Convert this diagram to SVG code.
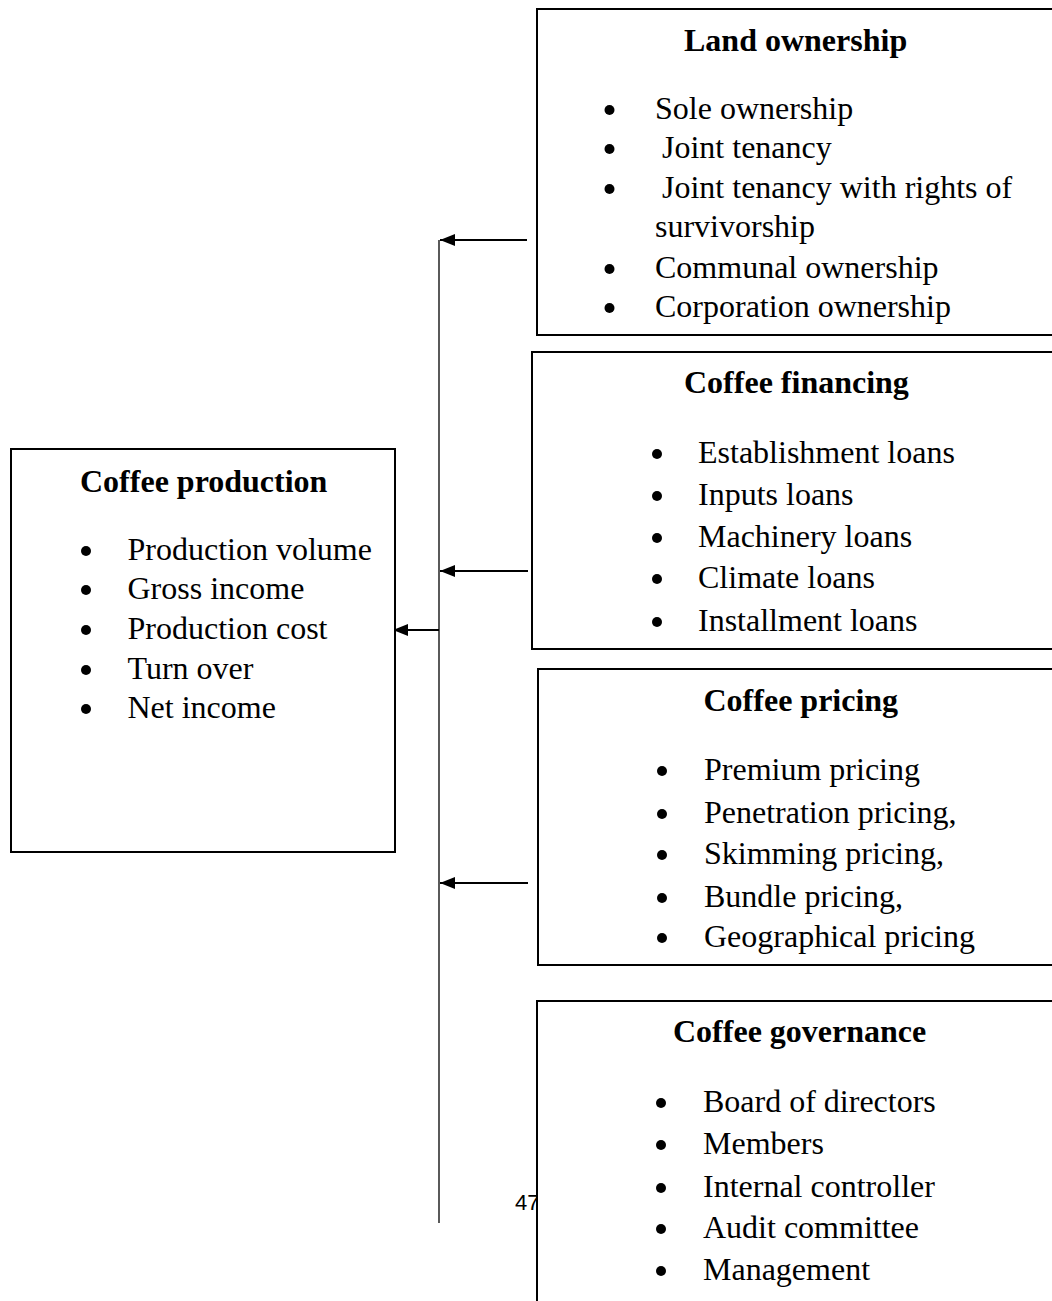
<svg xmlns="http://www.w3.org/2000/svg" width="1052" height="1301" viewBox="0 0 1052 1301">
<style>
.box{fill:#fff;stroke:#000;stroke-width:2}
.t{font-family:"Liberation Serif","Times New Roman",serif;font-size:32px;fill:#000}
.h{font-family:"Liberation Serif","Times New Roman",serif;font-size:32px;font-weight:bold;fill:#000}
.b{fill:#000}
.c{stroke:#000;stroke-width:2.2;fill:none}
.v{stroke:#000;stroke-width:1.3;fill:none}
.pg{font-family:"Liberation Sans",Arial,sans-serif;font-size:22px;fill:#000}
</style>
<defs>
<marker id="ah" viewBox="0 0 15 12" refX="15" refY="6" markerWidth="15" markerHeight="12" markerUnits="userSpaceOnUse" orient="auto">
<path d="M0,0 L15,6 L0,12 z" fill="#000"/>
</marker>
</defs>
<rect width="1052" height="1301" fill="#fff"/>
<g id="connectors">
<line class="v" x1="439" y1="240" x2="439" y2="1223"/>
<line class="c" x1="527" y1="240" x2="440" y2="240" marker-end="url(#ah)"/>
<line class="c" x1="528" y1="571" x2="440" y2="571" marker-end="url(#ah)"/>
<line class="c" x1="528" y1="883" x2="440" y2="883" marker-end="url(#ah)"/>
<line class="c" x1="439" y1="630" x2="393" y2="630" marker-end="url(#ah)"/>
</g>
<text class="pg" x="515" y="1210">47</text>
<g id="coffee-production">
<rect class="box" x="11" y="449" width="384" height="403"/>
<text class="h" x="80" y="492">Coffee production</text>
<circle class="b" cx="86" cy="551" r="5"/><text class="t" x="127.5" y="560">Production volume</text>
<circle class="b" cx="86" cy="590" r="5"/><text class="t" x="127.5" y="599">Gross income</text>
<circle class="b" cx="86" cy="630" r="5"/><text class="t" x="127.5" y="639">Production cost</text>
<circle class="b" cx="86" cy="670" r="5"/><text class="t" x="127.5" y="679">Turn over</text>
<circle class="b" cx="86" cy="709" r="5"/><text class="t" x="127.5" y="718">Net income</text>
</g>
<g id="land-ownership">
<rect class="box" x="537" y="9" width="530" height="326"/>
<text class="h" x="684" y="51">Land ownership</text>
<circle class="b" cx="609.5" cy="110" r="5"/><text class="t" x="655" y="119">Sole ownership</text>
<circle class="b" cx="609.5" cy="149" r="5"/><text class="t" x="662" y="158">Joint tenancy</text>
<circle class="b" cx="609.5" cy="189" r="5"/><text class="t" x="662" y="198">Joint tenancy with rights of</text>
<text class="t" x="655" y="237">survivorship</text>
<circle class="b" cx="609.5" cy="269" r="5"/><text class="t" x="655" y="278">Communal ownership</text>
<circle class="b" cx="609.5" cy="308" r="5"/><text class="t" x="655" y="317">Corporation ownership</text>
</g>
<g id="coffee-financing">
<rect class="box" x="532" y="352" width="535" height="297"/>
<text class="h" x="684" y="393">Coffee financing</text>
<circle class="b" cx="657" cy="454" r="5"/><text class="t" x="698" y="463">Establishment loans</text>
<circle class="b" cx="657" cy="496" r="5"/><text class="t" x="698" y="505">Inputs loans</text>
<circle class="b" cx="657" cy="538" r="5"/><text class="t" x="698" y="547">Machinery loans</text>
<circle class="b" cx="657" cy="579" r="5"/><text class="t" x="698" y="588">Climate loans</text>
<circle class="b" cx="657" cy="622" r="5"/><text class="t" x="698" y="631">Installment loans</text>
</g>
<g id="coffee-pricing">
<rect class="box" x="538" y="669" width="529" height="296"/>
<text class="h" x="703.5" y="711">Coffee pricing</text>
<circle class="b" cx="662" cy="771" r="5"/><text class="t" x="704" y="780">Premium pricing</text>
<circle class="b" cx="662" cy="814" r="5"/><text class="t" x="704" y="823">Penetration pricing,</text>
<circle class="b" cx="662" cy="855" r="5"/><text class="t" x="704" y="864">Skimming pricing,</text>
<circle class="b" cx="662" cy="898" r="5"/><text class="t" x="704" y="907">Bundle pricing,</text>
<circle class="b" cx="662" cy="938" r="5"/><text class="t" x="704" y="947">Geographical pricing</text>
</g>
<g id="coffee-governance">
<rect class="box" x="537" y="1001" width="530" height="320"/>
<text class="h" x="673" y="1042">Coffee governance</text>
<circle class="b" cx="661" cy="1103" r="5"/><text class="t" x="703" y="1112">Board of directors</text>
<circle class="b" cx="661" cy="1145" r="5"/><text class="t" x="703" y="1154">Members</text>
<circle class="b" cx="661" cy="1188" r="5"/><text class="t" x="703" y="1197">Internal controller</text>
<circle class="b" cx="661" cy="1229" r="5"/><text class="t" x="703" y="1238">Audit committee</text>
<circle class="b" cx="661" cy="1271" r="5"/><text class="t" x="703" y="1280">Management</text>
</g>
</svg>
